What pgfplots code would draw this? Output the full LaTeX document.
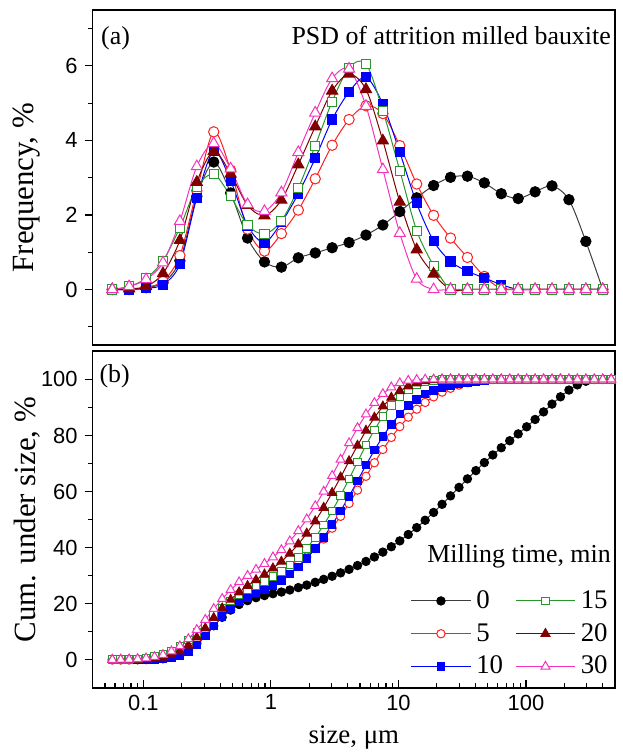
\documentclass[border=0pt]{standalone}
\usepackage{fontspec}
\setmainfont{Liberation Serif}
\setsansfont{Liberation Sans}
\usepackage{pgfplots}
\usepackage{pgfplotstable}
\pgfplotsset{compat=1.18}

\definecolor{cgray}{RGB}{60,60,60}
\definecolor{cred}{RGB}{255,30,30}
\definecolor{cblue}{RGB}{0,0,255}
\definecolor{cgreen}{RGB}{40,150,40}
\definecolor{cmaroon}{RGB}{128,0,0}
\definecolor{cpink}{RGB}{245,50,190}

% frequency, every second size class
\pgfplotstableread{
x      s0    s5    s10   s15   s20   s30
0.0571 0     0     0     0     0     0
0.0774 0     0     0     0.08  0.02  0.08
0.1051 0.05  0.06  0.03  0.30  0.08  0.27
0.1426 0.18  0.22  0.13  0.77  0.43  0.72
0.1935 0.77  0.91  0.68  1.66  1.32  1.83
0.2626 2.50  2.65  2.46  2.75  2.88  3.30
0.3565 3.42  4.23  3.72  3.09  3.71  3.92
0.4837 2.59  3.20  2.92  2.50  3.10  3.24
0.6565 1.38  1.62  1.71  1.72  2.26  2.28
0.8909 0.74  1.03  1.26  1.49  1.98  2.10
1.209  0.60  1.50  1.80  1.84  2.40  2.60
1.641  0.85  2.13  2.57  2.72  3.35  3.68
2.227  0.98  2.97  3.52  3.86  4.37  4.74
3.022  1.12  3.87  4.56  5.04  5.33  5.66
4.101  1.26  4.56  5.30  5.95  5.78  5.92
5.566  1.46  4.93  5.70  6.06  5.37  4.92
7.551  1.73  4.72  4.97  4.80  3.99  3.22
10.25  2.09  3.86  3.68  3.19  2.35  1.51
13.91  2.46  2.83  2.31  1.58  1.07  0.28
18.87  2.79  1.99  1.30  0.64  0.42  0
25.61  3.01  1.38  0.75  0     0     0
34.75  3.04  0.86  0.49  0     0     0
47.17  2.86  0.35  0.31  0     0     0
64.01  2.57  0.02  0.13  0     0     0
86.87  2.44  0     0     0     0     0
117.9  2.62  0     0     0     0     0
160.0  2.78  0     0     0     0     0
217.1  2.41  0     0     0     0     0
294.6  1.29  0     0     0     0     0
399.8  0     0     0     0     0     0
}\freq

% cumulative under size
\pgfplotstableread{
x      c0     c5     c10    c15    c20    c30
0.0571 0      0      0      0      0      0
0.0665 0      0      0      0.04   0.01   0.04
0.0774 0      0      0      0.12   0.03   0.12
0.0902 0.03   0.03   0.01   0.31   0.08   0.29
0.1051 0.08   0.09   0.04   0.61   0.16   0.56
0.1224 0.19   0.23   0.12   1.15   0.41   1.05
0.1426 0.37   0.45   0.25   1.92   0.84   1.77
0.1661 0.85   1.02   0.66   3.13   1.71   3.04
0.1935 1.62   1.93   1.33   4.79   3.03   4.86
0.2254 3.25   3.72   2.89   7.00   5.12   7.41
0.2626 5.75   6.37   5.34   9.74   7.99   10.69
0.3059 8.71   9.82   8.41   12.66  11.27  14.28
0.3565 12.13  14.06  12.11  15.74  14.96  18.18
0.4152 15.14  17.78  15.41  18.54  18.36  21.74
0.4837 17.73  20.99  18.31  21.03  21.44  24.96
0.5635 19.71  23.40  20.61  23.14  24.11  27.71
0.6565 21.09  25.03  22.31  24.86  26.36  29.98
0.7648 22.15  26.36  23.79  26.46  28.48  32.16
0.8909 22.89  27.39  25.04  27.95  30.45  34.24
1.038  23.56  28.65  26.56  29.62  32.63  36.58
1.209  24.16  30.16  28.35  31.45  35.02  39.17
1.408  24.89  31.98  30.52  33.73  37.88  42.29
1.641  25.74  34.11  33.08  36.45  41.22  45.95
1.911  26.65  36.67  36.10  39.74  45.06  50.14
2.227  27.63  39.65  39.60  43.60  49.42  54.85
2.594  28.68  43.07  43.62  48.04  54.25  60.02
3.022  29.80  46.95  48.15  53.08  59.56  65.65
3.520  30.99  51.17  53.05  58.57  65.09  71.41
4.101  32.25  55.74  58.32  64.51  70.85  77.30
4.777  33.61  60.50  63.79  70.51  76.40  82.69
5.566  35.07  65.44  69.45  76.57  81.75  87.58
6.483  36.67  70.27  74.75  81.99  86.41  91.63
7.551  38.40  75.00  79.69  86.79  90.38  94.83
8.797  40.31  79.30  83.99  90.78  93.54  97.19
10.25  42.40  83.17  87.65  93.97  95.88  98.69
11.94  44.67  86.53  90.63  96.35  97.58  99.58
13.91  47.13  89.37  92.92  97.93  98.65  99.86
16.20  49.76  91.78  94.72  99.04  99.39  100
18.87  52.55  93.78  96.01  99.68  99.81  100
21.99  55.45  95.46  97.03  100    100    100
25.61  58.46  96.84  97.77  100    100    100
29.84  61.48  97.97  98.39  100    100    100
34.75  64.52  98.83  98.88  100    100    100
40.49  67.47  99.44  99.28  100    100    100
47.17  70.33  99.79  99.58  100    100    100
54.95  73.05  99.97  99.80  100    100    100
64.01  75.62  99.99  99.93  100    100    100
74.57  78.12  100    100    100    100    100
86.87  80.56  100    100    100    100    100
101.2  83.09  100    100    100    100    100
117.9  85.71  100    100    100    100    100
137.3  88.41  100    100    100    100    100
160.0  91.19  100    100    100    100    100
186.4  93.79  100    100    100    100    100
217.1  96.20  100    100    100    100    100
252.9  98.05  100    100    100    100    100
294.6  99.34  100    100    100    100    100
343.2  99.98  100    100    100    100    100
399.8  100    100    100    100    100    100
465.8  100    100    100    100    100    100
}\cum

\pgfplotsset{
  p0/.style={color=cgray, mark=*, mark options={draw=black, fill=black}},
  p5/.style={color=cred, mark=*, mark options={draw=cred, fill=white}},
  p10/.style={color=cblue, mark=square*, mark options={draw=cblue, fill=cblue}},
  p15/.style={color=cgreen, mark=square*, mark options={draw=cgreen, fill=white}},
  p20/.style={color=cmaroon, mark=triangle*, mark options={draw=cmaroon, fill=cmaroon}},
  p30/.style={color=cpink, mark=triangle*, mark options={draw=cpink, fill=white}},
}

\newcommand{\lbl}{\fontsize{13}{15}\selectfont}

\begin{document}
\begin{tikzpicture}
\begin{semilogxaxis}[name=top,
  scale only axis, width=262.5pt, height=168.5pt,
  xmin=0.04, xmax=500,
  ymin=-1.5, ymax=7.5,
  axis line style={line width=0.9pt},
  every tick/.style={black, line width=0.6pt},
  major tick length=4pt, minor tick length=2.2pt,
  tick align=outside, ytick pos=left,
  tick label style={font=\sffamily\fontsize{11}{13}\selectfont},
  /pgf/number format/assume math mode=true,
  ytick={0,2,4,6}, minor ytick={-1,1,3,5,7},
  xtick=\empty, xminorticks=false,
  ylabel={Frequency, \%},
  ylabel style={at={(axis description cs:-0.126,0.47)}, anchor=center, font=\fontsize{15.5}{17}\selectfont},
  every axis plot/.append style={line width=0.5pt},
]
\addplot[p0, smooth, mark size=2.6pt] table[x=x, y=s0] {\freq};
\addplot[p5, smooth, mark size=2.6pt] table[x=x, y=s5] {\freq};
\addplot[p10, smooth, mark size=2.3pt] table[x=x, y=s10] {\freq};
\addplot[p15, smooth, mark size=2.3pt] table[x=x, y=s15] {\freq};
\addplot[p20, smooth, mark size=3.2pt] table[x=x, y=s20] {\freq};
\addplot[p30, smooth, mark size=3.2pt] table[x=x, y=s30] {\freq};
\node[anchor=base west, font=\lbl] at (axis description cs:0.003,0.896) {(a)};
\node[anchor=base east, font=\lbl] at (axis description cs:1.005,0.896) {PSD of attrition milled bauxite};
\end{semilogxaxis}

\begin{semilogxaxis}[name=bot,
  at={(top.south west)}, anchor=north west, yshift=-3pt,
  scale only axis, width=262.5pt, height=169pt,
  xmin=0.04, xmax=500,
  ymin=-10, ymax=110,
  axis line style={line width=0.9pt},
  every tick/.style={black, line width=0.6pt},
  major tick length=4pt, minor tick length=2.2pt,
  xtick align=inside, ytick align=outside,
  ytick pos=left, xtick pos=left,
  tick label style={font=\sffamily\fontsize{11}{13}\selectfont},
  /pgf/number format/assume math mode=true,
  ytick={0,20,40,60,80,100}, minor ytick={10,30,50,70,90},
  xtick={0.1,1,10,100}, xticklabels={0.1,1,10,100},
  minor xtick={0.05,0.06,0.07,0.08,0.09,0.2,0.3,0.4,0.5,0.6,0.7,0.8,0.9,
    2,3,4,5,6,7,8,9,20,30,40,50,60,70,80,90,200,300,400},
  xlabel={size, μm},
  xlabel style={at={(axis description cs:0.5,-0.148)}, anchor=center, font=\fontsize{13.5}{15}\selectfont},
  ylabel={Cum. under size, \%},
  ylabel style={at={(axis description cs:-0.126,0.5)}, anchor=center, font=\fontsize{15.5}{17}\selectfont},
  every axis plot/.append style={line width=0.5pt},
  legend columns=3, transpose legend, legend cell align=left,
  legend style={at={(axis description cs:0.996,0.031)}, anchor=south east,
    draw=none, fill=none, font=\fontsize{13.5}{15}\selectfont, inner sep=0pt, row sep=6pt,
    nodes={inner xsep=2.5pt, inner ysep=0pt},
    /tikz/every even column/.append style={column sep=3.5pt}},
  legend image code/.code={\draw[mark repeat=2, mark phase=2] plot coordinates {(0pt,0pt) (15pt,0pt) (30pt,0pt)};},
]
\addplot[p0, mark size=2.1pt] table[x=x, y=c0] {\cum};
\addlegendentry{0}
\addplot[p5, mark size=2.1pt] table[x=x, y=c5] {\cum};
\addlegendentry{5}
\addplot[p10, mark size=1.9pt] table[x=x, y=c10] {\cum};
\addlegendentry{10}
\addplot[p15, mark size=1.9pt] table[x=x, y=c15] {\cum};
\addlegendentry{15}
\addplot[p20, mark size=2.6pt] table[x=x, y=c20] {\cum};
\addlegendentry{20}
\addplot[p30, mark size=2.6pt] table[x=x, y=c30] {\cum};
\addlegendentry{30}
\node[anchor=base west, font=\lbl] at (axis description cs:0.0,0.908) {(b)};
\node[anchor=east, font=\lbl] at (axis description cs:1.005,0.39) {Milling time, min};
\end{semilogxaxis}

\path ([xshift=-46.5pt, yshift=5pt]top.north west) rectangle ([xshift=3.5pt, yshift=-32.5pt]bot.south east);
\end{tikzpicture}
\end{document}
